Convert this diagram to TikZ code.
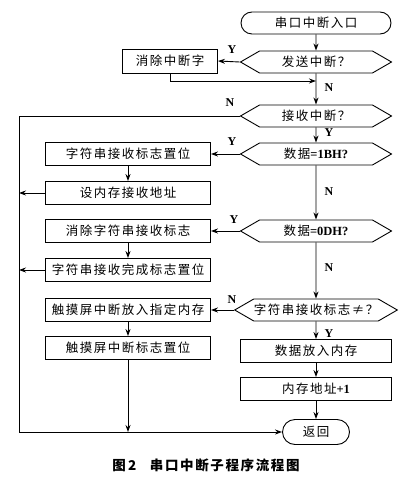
\documentclass[tikz,border=0pt]{standalone}
\usepackage{fontspec}
\newfontfamily\cjk[LetterSpace=12]{Noto Sans CJK SC}
\newfontfamily\ltn{Liberation Serif}
\usetikzlibrary{shapes.symbols,shapes.misc,arrows.meta}
\begin{document}
\begin{tikzpicture}[x=1pt,y=-1pt,line width=.9pt,>={Stealth[length=7pt,width=5pt]},
	font=\cjk\fontsize{12.5}{13}\selectfont,
	box/.style={draw,rectangle,minimum height=23pt,inner sep=0pt},
	dec/.style={draw,signal,signal to=west and east,signal pointer angle=60,minimum width=151pt,minimum height=22pt,inner sep=0pt},
	term/.style={draw,rounded rectangle,minimum height=22pt,inner sep=0pt},
	yn/.style={font=\ltn\bfseries\fontsize{12}{13}\selectfont}]
	\useasboundingbox (0,0) rectangle (406,478);
	%右列
	\node[term,minimum width=150pt] (start) at (316,23) {串口中断入口};
	\node[dec] (d1) at (316,62) {发送中断？};
	\node[dec] (d2) at (316,116) {接收中断？};
	\node[dec] (d3) at (316,154) {数据{\ltn\bfseries =1BH?}};
	\node[dec] (d4) at (316,231) {数据{\ltn\bfseries =0DH?}};
	\node[dec] (d5) at (316,310) {字符串接收标志≠？};
	\node[box,minimum width=151pt] (r1) at (316,351) {数据放入内存};
	\node[box,minimum width=151pt] (r2) at (316,389) {内存地址{\ltn\bfseries +1}};
	\node[term,minimum width=67pt,minimum height=25pt] (ret) at (316,432) {返回};
	%左列
	\node[box,minimum width=95pt,minimum height=24pt] (clr) at (170,61) {消除中断字};
	\node[box,minimum width=165pt] (b1) at (128,154) {字符串接收标志置位};
	\node[box,minimum width=165pt] (b2) at (128,193) {设内存接收地址};
	\node[box,minimum width=165pt] (b3) at (128,231) {消除字符串接收标志};
	\node[box,minimum width=165pt] (b4) at (128,270) {字符串接收完成标志置位};
	\node[box,minimum width=165pt] (b5) at (128,310) {触摸屏中断放入指定内存};
	\node[box,minimum width=165pt] (b6) at (128,348) {触摸屏中断标志置位};
	\coordinate (j1) at (316,81);
	\coordinate (cl) at (19,432);
	%连线
	\draw[->] (start)--(d1);
	\draw[->] (d1.west)--(clr.east);
	\draw[->] (clr.south)|-(j1);
	\draw[->] (d1)--(d2);
	\draw[->] (d2.west)-|(cl)--(ret.west);
	\draw[->] (d2)--(d3);
	\draw[->] (d3.west)--(b1.east);
	\draw[->] (b1)--(b2);
	\draw[->] (b2.west)--(b2.west-|cl);
	\draw[->] (d3)--(d4);
	\draw[->] (d4.west)--(b3.east);
	\draw[->] (b3)--(b4);
	\draw[->] (b4.west)--(b4.west-|cl);
	\draw[->] (d4)--(d5);
	\draw[->] (d5.west)--(b5.east);
	\draw[->] (b5)--(b6);
	\draw[->] (b6.south)--(b6.south|-cl);
	\draw[->] (d5)--(r1);
	\draw[->] (r1)--(r2);
	\draw[->] (r2)--(ret);
	%标注
	\node[yn] (y1) at (232,50) {Y};
	\node[yn] (n1) at (329,88) {N};
	\node[yn] (n2) at (230,103) {N};
	\node[yn] (y2) at (329,133) {Y};
	\node[yn] (y3) at (232,142) {Y};
	\node[yn] (n3) at (329,192) {N};
	\node[yn] (y4) at (234,220) {Y};
	\node[yn] (n4) at (329,268) {N};
	\node[yn] (n5) at (232,300) {N};
	\node[yn] (y5) at (329,334) {Y};
	\node (cap) at (206,465) {\fontsize{13.5}{14}\selectfont\bfseries 图\,2\quad 串口中断子程序流程图};
\end{tikzpicture}
\end{document}
